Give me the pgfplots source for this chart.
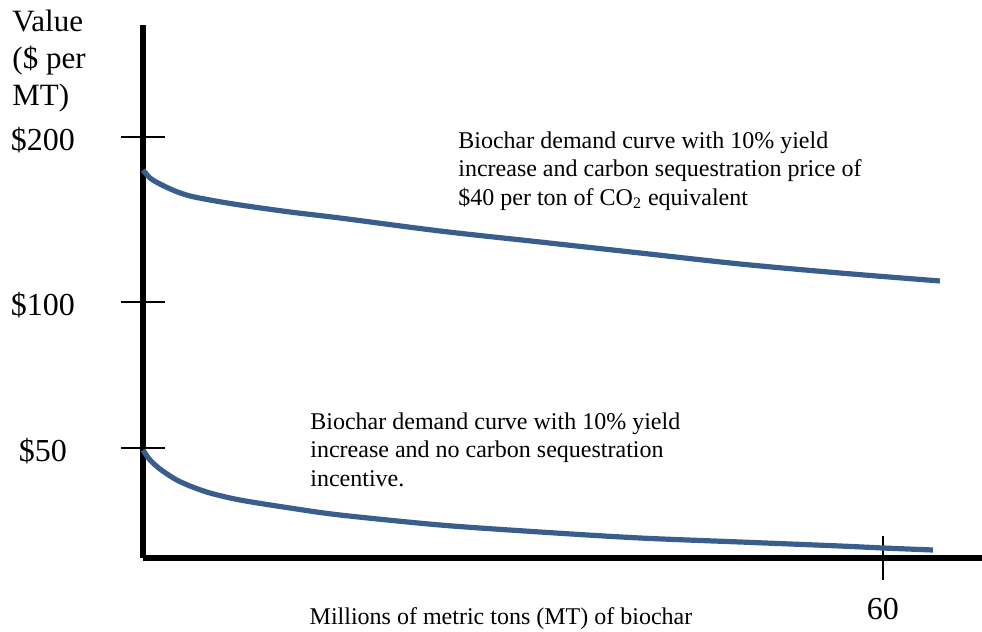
\documentclass[border=0pt]{standalone}
\usepackage{pgfplots}
\pgfplotsset{compat=1.18}
\usepackage{fontspec}
\setmainfont{Liberation Serif}
\definecolor{curveblue}{RGB}{58,94,140}

\begin{document}
\begin{tikzpicture}
% page frame: 1px of the reference = 0.5pt
\useasboundingbox (-71.5pt,-37pt) rectangle (419.5pt,279pt);
\begin{axis}[
    scale only axis,
    width=419.5pt, height=266.5pt,
    xmin=0, xmax=68.03,
    ymin=0, ymax=533,
    axis lines=left,
    axis line style={-, line width=2.6pt, black},
    xtick={60},
    ytick={110,256,421},
    yticklabels={\$50,\$100,\$200},
    tick align=center,
    major tick length=22pt,
    tick style={black, line width=0.6pt},
    ticklabel style={font=\fontsize{16}{19}\selectfont},
    yticklabel style={anchor=center, xshift=-39pt, yshift=-1.5pt},
    xticklabel style={yshift=-5.5pt},
    /pgf/number format/assume math mode=true,
    clip=false,
]
% upper curve: with carbon price
\addplot[curveblue, line width=2.6pt, smooth] coordinates {
    (0,388) (0.57,380) (1.38,374) (2.59,367) (3.81,362) (5.43,358)
    (7.86,353) (11.92,346) (15.97,340) (24.08,327) (32.19,316)
    (40.30,305) (48.41,294) (56.51,285) (64.62,277)
};
% lower curve: no carbon incentive
\addplot[curveblue, line width=2.6pt, smooth] coordinates {
    (0,108) (0.57,98) (1.38,89) (2.59,79) (3.81,72) (5.43,65)
    (7.86,58) (11.92,50) (15.97,43) (24.08,33) (32.19,26)
    (40.30,20) (48.41,16) (56.51,12) (60,10) (64.05,8)
};

\node[anchor=north west, inner sep=0, align=left,
      font=\fontsize{15.5}{18.5}\selectfont]
  at (rel axis cs:-0.1561,1.028) {Value\\(\$ per\\MT)};

\node[anchor=north west, inner sep=0, align=left,
      font=\fontsize{12}{14.3}\selectfont]
  at (axis cs:25.54,427) {Biochar demand curve with 10\% yield\\
  increase and carbon sequestration price of\\
  \$40 per ton of CO\textsubscript{2} equivalent};

\node[anchor=north west, inner sep=0, align=left,
      font=\fontsize{12}{14.3}\selectfont]
  at (axis cs:13.54,146) {Biochar demand curve with 10\% yield\\
  increase and no carbon sequestration\\
  incentive.};

\node[anchor=north, inner sep=0, font=\fontsize{12}{14.3}\selectfont]
  at (axis cs:29.03,-49) {Millions of metric tons (MT) of biochar};
\end{axis}
\end{tikzpicture}
\end{document}
